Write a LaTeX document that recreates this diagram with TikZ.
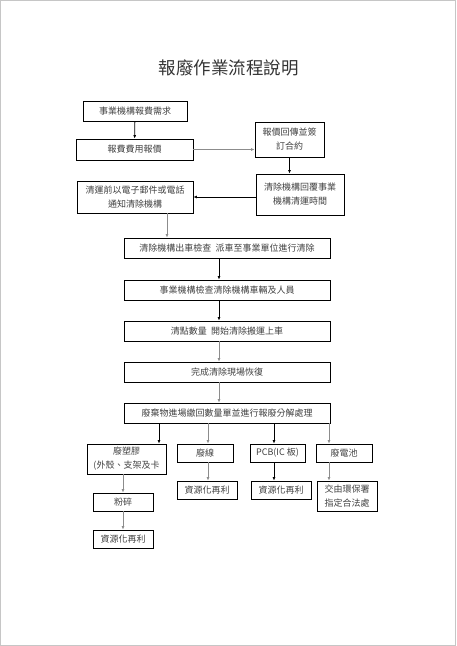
\documentclass[tikz,border=0pt]{standalone}
\usepackage{fontspec}
\usetikzlibrary{arrows.meta}
\newfontfamily\cjk{Noto Sans CJK TC}
\begin{document}
\begin{tikzpicture}[
        x=1pt, y=-1pt,
        box/.style={draw, line width=0.9pt, inner sep=1pt, align=center, text=black!75,
            font=\cjk\fontsize{9}{14}\selectfont},
        arrow/.style={-{Latex[length=3.5pt,width=3pt]}, line width=0.8pt},
        arrowg/.style={arrow, gray!90}
    ]
        % Page and frame
        \useasboundingbox (0,0) rectangle (456,646);
        \draw[gray!45, line width=1.3pt] (0.7,0.7) rectangle (455.3,645.3);
        \node[text=black!80, font=\cjk\fontsize{17.5}{20}\selectfont] (title) at (228.5,68) {報廢作業流程說明};

        % Request and quotation
        \node[box, minimum width=104pt, minimum height=20pt] (req) at (135,111) {事業機構報費需求};
        \node[box, minimum width=117pt, minimum height=21pt] (quote) at (134.5,149.5) {報費費用報價};
        \node[box, minimum width=69pt, minimum height=35pt] (contract) at (289.5,139.5) {報價回傳並簽\\訂合約};
        \node[box, minimum width=88pt, minimum height=41pt] (reply) at (300,194.5) {清除機構回覆事業\\機構清運時間};
        \node[box, minimum width=116pt, minimum height=32pt] (notify) at (135,197) {清運前以電子郵件或電話\\通知清除機構};

        % Main flow
        \node[box, minimum width=206pt, minimum height=20pt] (dispatch) at (227,248) {清除機構出車檢查\ \ 派車至事業單位進行清除};
        \node[box, minimum width=206pt, minimum height=20pt] (check) at (227,290) {事業機構檢查清除機構車輛及人員};
        \node[box, minimum width=206pt, minimum height=20pt] (count) at (227,331) {清點數量\ \ 開始清除搬運上車};
        \node[box, minimum width=206pt, minimum height=20pt] (restore) at (227,372) {完成清除現場恢復};
        \node[box, minimum width=206pt, minimum height=20pt] (sort) at (227,413) {廢棄物進場繳回數量單並進行報廢分解處理};

        % Branches
        \node[box, minimum width=79pt, minimum height=30pt] (plastic) at (126.5,459) {廢塑膠\\(外殼、支架及卡};
        \node[box, minimum width=56pt, minimum height=18pt] (wire) at (205,453) {廢線};
        \node[box, minimum width=55pt, minimum height=18pt] (pcb) at (277.5,453) {PCB(IC 板)};
        \node[box, minimum width=56pt, minimum height=18pt] (battery) at (344,453) {廢電池};

        \node[box, minimum width=60pt, minimum height=18pt] (crush) at (123,502) {粉碎};
        \node[box, minimum width=60pt, minimum height=18pt] (plasticuse) at (123,539) {資源化再利};
        \node[box, minimum width=60pt, minimum height=18pt] (wireuse) at (207,490) {資源化再利};
        \node[box, minimum width=60pt, minimum height=18pt] (pcbuse) at (281,490) {資源化再利};
        \node[box, minimum width=60pt, minimum height=30pt] (batteryuse) at (347,496) {交由環保署\\指定合法處};

        % Guide coordinates for the vertical arrows
        \coordinate (notifyx) at (167,0);
        \coordinate (spine) at (219,0);
        \coordinate (px) at (159,0);
        \coordinate (wx) at (208,0);
        \coordinate (cx) at (274,0);
        \coordinate (bx) at (329,0);
        \coordinate (ax) at (123,0);

        % Arrows
        \draw[arrow] (req) -- (quote);
        \draw[arrowg] (quote.east) -- (quote.east -| contract.west);
        \draw[arrow] (contract.south) -- (contract.south |- reply.north);
        \draw[arrow] (notify.east -| reply.west) -- (notify.east);
        \draw[arrowg] (notify.south -| notifyx) -- (dispatch.north -| notifyx);

        \draw[arrow] (dispatch.south -| spine) -- (check.north -| spine);
        \draw[arrow] (check.south -| spine) -- (count.north -| spine);
        \draw[arrowg] (count.south -| spine) -- (restore.north -| spine);
        \draw[arrowg] (restore.south -| spine) -- (sort.north -| spine);

        \draw[arrow] (sort.south -| px) -- (plastic.north -| px);
        \draw[arrowg] (sort.south -| wx) -- (wire.north -| wx);
        \draw[arrow] (sort.south -| cx) -- (pcb.north -| cx);
        \draw[arrowg] (sort.south -| bx) -- (battery.north -| bx);

        \draw[arrowg] (plastic.south -| ax) -- (crush.north -| ax);
        \draw[arrowg] (crush) -- (plasticuse);
        \draw[arrowg] (wire.south -| wx) -- (wireuse.north -| wx);
        \draw[arrow] (pcb.south -| cx) -- (pcbuse.north -| cx);
        \draw[arrowg] (battery.south -| bx) -- (batteryuse.north -| bx);
    \end{tikzpicture}
\end{document}
